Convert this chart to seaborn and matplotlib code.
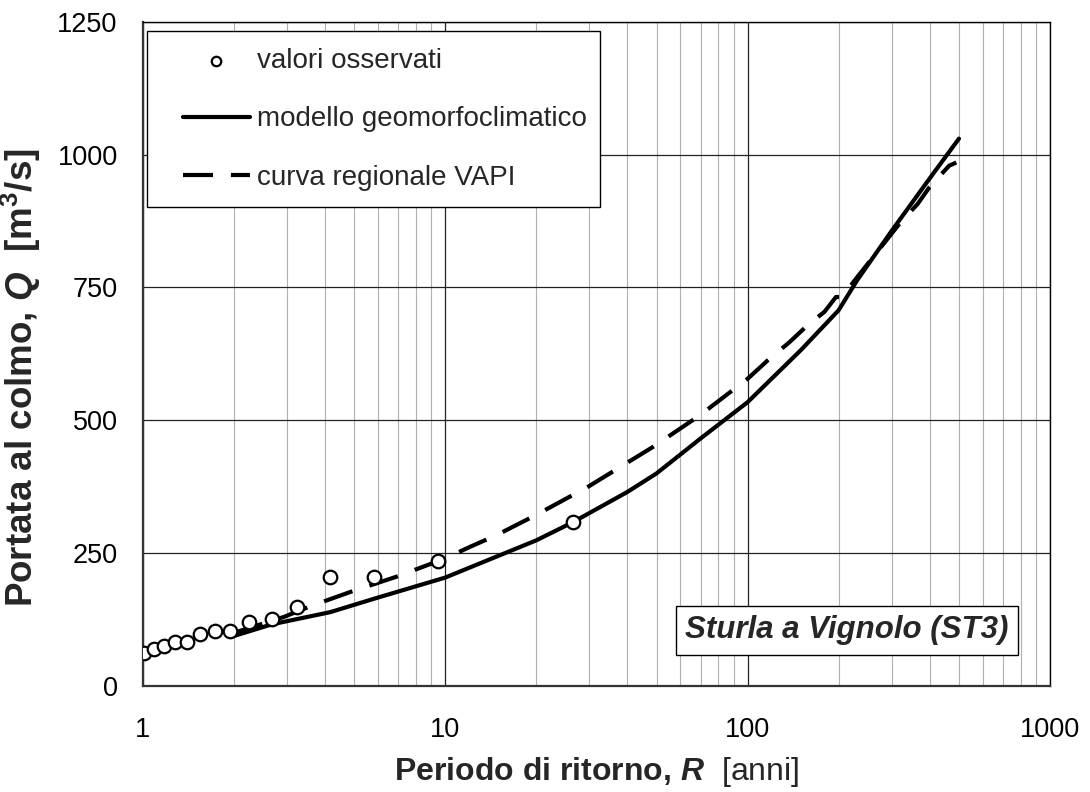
import numpy as np
import pandas as pd
import matplotlib
matplotlib.use("Agg")
import matplotlib.pyplot as plt
import seaborn as sns
from matplotlib.patches import Rectangle
from matplotlib.ticker import FixedLocator, LogLocator, NullFormatter, FixedFormatter

# ---- data ----
R_obs = [1.01, 1.09, 1.18, 1.28, 1.40, 1.55, 1.73, 1.95, 2.25, 2.67, 3.24, 4.17, 5.80, 9.46, 26.4]
Q_obs = [63, 69, 76, 82, 82, 98, 104, 104, 120, 126, 149, 205, 205, 235, 308]

R_geo = [2, 2.67, 4.17, 5.8, 10, 20, 26.4, 40, 50, 70, 100, 150, 200, 230, 300, 400, 500]
Q_geo = [94, 116, 139, 164, 204, 274, 308, 365, 400, 466, 534, 632, 707, 763, 857, 955, 1030]

R_vapi = [2, 2.93, 3.58, 4.86, 6.93, 10, 12.1, 14.8, 20, 29.7, 48.7, 69.4, 100, 116.7,
          137.6, 158, 179.5, 196, 205, 228, 318, 365, 400, 464, 490]
Q_vapi = [100, 130, 150, 177, 206, 240, 262, 284, 322, 375, 450, 509, 578, 613,
          647, 679, 704, 732, 732, 766, 870, 907, 939, 979, 985]

x_ticks = [1, 10, 100, 1000]
x_tick_labels = ["1", "10", "100", "1000"]
y_ticks = [0, 250, 500, 750, 1000, 1250]

labels = ["valori osservati", "modello geomorfoclimatico", "curva regionale VAPI"]
station = "Sturla a Vignolo (ST3)"

# ---- style ----
sns.set_style("white")
plt.rcParams["font.family"] = ["Liberation Sans", "DejaVu Sans"]
plt.rcParams["mathtext.fontset"] = "custom"
plt.rcParams["mathtext.rm"] = "Liberation Sans"
plt.rcParams["mathtext.it"] = "Liberation Sans:italic:bold"
plt.rcParams["mathtext.bf"] = "Liberation Sans:bold"

fig = plt.figure(figsize=(10.9, 7.92), dpi=100)
ax = fig.add_axes([0.1309, 0.1338, 0.8324, 0.8388])

df_obs = pd.DataFrame({"R": R_obs, "Q": Q_obs})
df_geo = pd.DataFrame({"R": R_geo, "Q": Q_geo})
df_vapi = pd.DataFrame({"R": R_vapi, "Q": Q_vapi})

ax.set_xscale("log")
ax.set_axisbelow(True)

sns.lineplot(data=df_geo, x="R", y="Q", ax=ax, color="black", lw=3.0,
             sort=False, estimator=None, label=labels[1], zorder=3)
sns.lineplot(data=df_vapi, x="R", y="Q", ax=ax, color="black", lw=3.0,
             sort=False, estimator=None, label=labels[2], zorder=3)
ax.lines[-1].set_linestyle((0, (7.2, 4.3)))
ax.lines[-1].set_dash_capstyle("butt")
sns.scatterplot(data=df_obs, x="R", y="Q", ax=ax, marker="o", s=95,
                facecolor="white", edgecolor="black", linewidth=1.6,
                label=labels[0], zorder=4)

ax.set_xlim(1, 1000)
ax.set_ylim(0, 1250)

ax.xaxis.set_major_locator(FixedLocator(x_ticks))
ax.xaxis.set_major_formatter(FixedFormatter(x_tick_labels))
ax.xaxis.set_minor_locator(LogLocator(base=10, subs=np.arange(2, 10)))
ax.xaxis.set_minor_formatter(NullFormatter())
ax.yaxis.set_major_locator(FixedLocator(y_ticks))

ax.grid(which="major", axis="both", color="#222222", lw=0.9)
ax.grid(which="minor", axis="x", color="#b0b0b0", lw=0.8)

ax.tick_params(axis="both", which="major", direction="out", length=7,
               width=1, color="black", labelsize=19.5, labelcolor="black")
ax.tick_params(axis="y", pad=11)
ax.tick_params(axis="x", pad=15)
ax.tick_params(axis="x", which="minor", length=0)

for side in ["top", "right"]:
    ax.spines[side].set_color("black")
    ax.spines[side].set_linewidth(1.0)
for side in ["left", "bottom"]:
    ax.spines[side].set_color("#333333")
    ax.spines[side].set_linewidth(1.6)

ax.set_xlabel(r"Periodo di ritorno, $R$  $\mathrm{[anni]}$", fontsize=23,
              fontweight="bold", labelpad=9)
ax.set_ylabel(r"Portata al colmo, $Q$  [m$^{\mathbf{3}}$/s]", fontsize=26.5,
              fontweight="bold")
ax.yaxis.set_label_coords(-0.110, 0.4636)

# legend frame (drawn separately so inner padding can match)
frame = Rectangle((0.0047, 0.721), 0.4993, 0.265, transform=ax.transAxes,
                  facecolor="white", edgecolor="black", lw=1.0, zorder=5)
ax.add_patch(frame)

handles, labs = ax.get_legend_handles_labels()
order = [labs.index(l) for l in labels]
leg = ax.legend([handles[i] for i in order], [labs[i] for i in order],
                loc="center left", bbox_to_anchor=(0.0444, 0.8528),
                fontsize=20, frameon=False,
                handlelength=2.4, handletextpad=0.25, labelspacing=1.17,
                borderpad=0, borderaxespad=0, markerscale=0.7)
leg.set_zorder(6)

ax.text(0.776, 0.084, station, transform=ax.transAxes, ha="center", va="center",
        fontsize=22.5, fontweight="bold", fontstyle="italic", zorder=6,
        bbox=dict(boxstyle="square,pad=0.3", facecolor="white", edgecolor="black", lw=1.0))

fig.savefig("out.png", dpi=100, facecolor="white")
